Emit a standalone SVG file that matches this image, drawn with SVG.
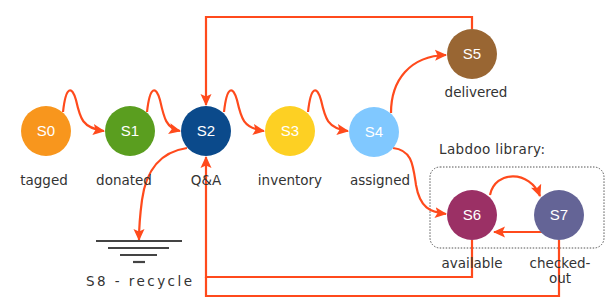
<svg xmlns="http://www.w3.org/2000/svg" width="615" height="300" viewBox="0 0 615 300">
<defs>
<marker id="ah" markerWidth="12" markerHeight="12" refX="11" refY="6" orient="auto" markerUnits="userSpaceOnUse">
<path d="M0,0.5 L12,6 L0,11.5 L2.5,6 Z" fill="#ff4a1c"/>
</marker>
<style>
.n text{font-family:"Liberation Sans",Arial,sans-serif;font-size:15px;fill:#fff;text-anchor:middle}
.lbl{font-family:"DejaVu Sans","Liberation Sans",sans-serif;font-size:13.5px;fill:#333;text-anchor:middle}
.c path{fill:none;stroke:#ff4a1c;stroke-width:2.2}
.g line{stroke:#444;stroke-width:2.2}
</style>
</defs>
<rect width="615" height="300" fill="#fff"/>
<rect x="430" y="167" width="174" height="81" rx="10" fill="none" stroke="#555" stroke-width="1" stroke-dasharray="1.5,1.5"/>
<text class="lbl" x="492" y="154" textLength="106">Labdoo library:</text>
<g class="c" id="connectors">
<path d="M63,112 C66,85 72,86 76,100 C80,118 82,128 104,131" marker-end="url(#ah)"/>
<path d="M147,112 C150,85 156,86 160,100 C164,118 166,128 180,131" marker-end="url(#ah)"/>
<path d="M224,112 C227,85 233,86 237,100 C241,118 243,128 264,131" marker-end="url(#ah)"/>
<path d="M308,112 C311,85 317,86 321,100 C325,118 327,128 348,131" marker-end="url(#ah)"/>
<path d="M391,113 C391,80 410,56 446,55" marker-end="url(#ah)"/>
<path d="M472,29 L472,17 L206,17 L206,105" marker-end="url(#ah)"/>
<path d="M393,148 C412,150 413,165 416,185 C420,208 430,212 446,214" marker-end="url(#ah)"/>
<path d="M490,195 C495,170 530,170 540,196" marker-end="url(#ah)"/>
<path d="M542,232 L494,232" marker-end="url(#ah)"/>
<path d="M472,240 L472,277 L206,277 L206,157" marker-end="url(#ah)"/>
<path d="M559,240 L559,296 L206,296 L206,277"/>
<path d="M187,148 C160,152 146,170 142,200 C140,215 139,225 139,240" marker-end="url(#ah)"/>
</g>
<g class="n" id="S0"><circle cx="46" cy="131" r="25" fill="#f8961d"/><text x="46" y="136">S0</text></g>
<g class="n" id="S1"><circle cx="130" cy="131" r="25" fill="#5a9e1f"/><text x="130" y="136">S1</text></g>
<g class="n" id="S2"><circle cx="206" cy="131" r="25" fill="#0b4a8b"/><text x="206" y="136">S2</text></g>
<g class="n" id="S3"><circle cx="290" cy="131" r="25" fill="#fdd023"/><text x="290" y="136">S3</text></g>
<g class="n" id="S4"><circle cx="374" cy="132" r="25" fill="#80c8ff"/><text x="374" y="137">S4</text></g>
<g class="n" id="S5"><circle cx="472" cy="54" r="25" fill="#996633"/><text x="472" y="59">S5</text></g>
<g class="n" id="S6"><circle cx="472" cy="215" r="25" fill="#9b3065"/><text x="472" y="220">S6</text></g>
<g class="n" id="S7"><circle cx="559" cy="215" r="25" fill="#646496"/><text x="559" y="220">S7</text></g>
<g id="labels">
<text class="lbl" x="44" y="185">tagged</text>
<text class="lbl" x="124" y="185">donated</text>
<text class="lbl" x="206" y="185">Q&amp;A</text>
<text class="lbl" x="290" y="185">inventory</text>
<text class="lbl" x="380" y="185">assigned</text>
<text class="lbl" x="476" y="97">delivered</text>
<text class="lbl" x="472" y="268">available</text>
<text class="lbl" x="560" y="268">checked-</text>
<text class="lbl" x="560" y="283">out</text>
</g>
<g class="g" id="S8">
<line x1="96" y1="241" x2="182" y2="241"/>
<line x1="108" y1="248" x2="169" y2="248"/>
<line x1="120" y1="255" x2="157" y2="255"/>
<line x1="133" y1="262" x2="145" y2="262"/>
<text class="lbl" x="139" y="286" textLength="106">S8 - recycle</text>
</g>
</svg>
